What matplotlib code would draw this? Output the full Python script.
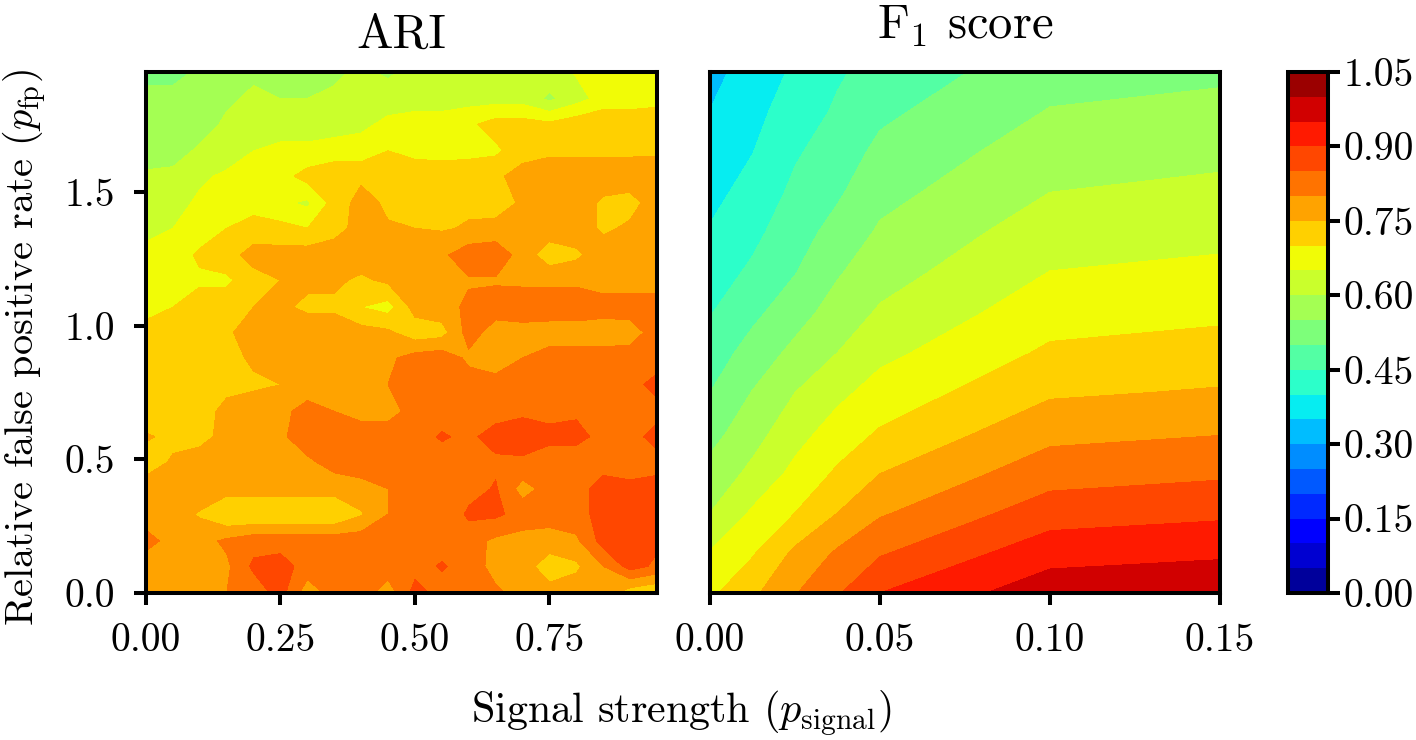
import matplotlib
matplotlib.use('Agg')
import matplotlib.pyplot as plt
import numpy as np

# ── Data ──────────────────────────────────────────────────────────────────────
ari_x = [0.00, 0.05, 0.10, 0.15, 0.20, 0.25, 0.30, 0.35, 0.40, 0.45,
         0.50, 0.55, 0.60, 0.65, 0.70, 0.75, 0.80, 0.85, 0.90, 0.95]
# rows listed from the top of the panel down to y = 0
ari_y_top_down = [1.95, 1.85, 1.755, 1.655, 1.56, 1.46, 1.365, 1.265, 1.17, 1.07, 0.975,
                  0.88, 0.78, 0.68, 0.585, 0.49, 0.39, 0.295, 0.195, 0.10, 0.00]
ari_rows = [
    [.54, .53, .56, .58, .59, .59, .59, .59, .61, .59, .62, .63, .63, .63, .645, .63, .655, .67, .67, .67],
    [.56, .57, .58, .59, .61, .60, .60, .61, .62, .63, .63, .63, .63, .63, .63, .59, .63, .67, .67, .68],
    [.56, .56, .575, .61, .62, .63, .63, .63, .64, .66, .67, .67, .69, .72, .72, .71, .73, .74, .74, .74],
    [.57, .575, .61, .62, .65, .66, .66, .67, .67, .70, .68, .68, .68, .69, .73, .74, .74, .74, .74, .74],
    [.61, .615, .64, .66, .67, .68, .72, .74, .74, .74, .74, .73, .74, .74, .77, .78, .78, .78, .78, .79],
    [.625, .63, .66, .67, .68, .66, .64, .72, .77, .74, .74, .74, .74, .72, .76, .77, .78, .74, .73, .78],
    [.645, .65, .67, .70, .72, .715, .70, .73, .77, .755, .75, .745, .755, .77, .78, .78, .78, .74, .76, .78],
    [.655, .67, .71, .73, .77, .77, .775, .78, .78, .78, .78, .79, .83, .83, .78, .72, .74, .78, .78, .78],
    [.655, .67, .69, .69, .73, .75, .76, .76, .74, .76, .77, .80, .795, .795, .79, .79, .79, .78, .78, .78],
    [.68, .70, .73, .73, .75, .76, .74, .74, .70, .68, .77, .78, .81, .82, .83, .83, .83, .82, .82, .82],
    [.72, .72, .72, .74, .78, .78, .78, .78, .77, .76, .72, .73, .82, .78, .78, .775, .775, .775, .78, .82],
    [.72, .72, .72, .73, .76, .77, .77, .78, .78, .79, .82, .83, .79, .77, .80, .82, .82, .82, .82, .82],
    [.72, .72, .72, .73, .74, .75, .77, .77, .77, .80, .82, .80, .82, .82, .82, .83, .83, .83, .83, .87],
    [.72, .72, .72, .77, .78, .785, .82, .80, .78, .78, .82, .83, .83, .83, .84, .84, .84, .83, .83, .83],
    [.755, .74, .73, .77, .78, .79, .83, .83, .83, .83, .83, .855, .84, .87, .88, .86, .87, .83, .83, .87],
    [.73, .755, .78, .78, .78, .79, .79, .82, .83, .83, .83, .83, .83, .84, .84, .83, .81, .83, .83, .83],
    [.77, .78, .78, .77, .77, .77, .77, .77, .78, .80, .83, .83, .83, .855, .78, .82, .83, .87, .86, .87],
    [.77, .77, .745, .70, .70, .70, .70, .70, .745, .80, .83, .80, .86, .86, .83, .82, .83, .87, .87, .87],
    [.82, .78, .78, .81, .83, .83, .83, .83, .83, .83, .83, .83, .82, .79, .78, .78, .79, .87, .88, .86],
    [.77, .77, .79, .79, .86, .87, .83, .83, .83, .83, .83, .855, .83, .78, .775, .72, .74, .80, .87, .84],
    [.78, .78, .78, .80, .82, .87, .77, .82, .83, .77, .87, .83, .82, .81, .78, .77, .78, .78, .72, .70],
]

f1_x = [0.0, 0.0125, 0.025, 0.0375, 0.05, 0.10, 0.15]
f1_y = [0.0, 0.15, 0.30, 0.45, 0.60, 0.75, 0.90, 1.05, 1.20, 1.35, 1.50, 1.65, 1.80, 1.95]
# one list per f1_x column, bottom to top
f1_cols = [
    [.69, .653, .60, .566, .532, .50, .473, .447, .425, .404, .386, .368, .351, .335],
    [.74, .695, .657, .612, .58, .552, .52, .488, .459, .437, .417, .399, .385, .371],
    [.797, .76, .70, .663, .631, .60, .563, .529, .498, .48, .461, .444, .425, .408],
    [.845, .807, .75, .707, .672, .638, .60, .572, .545, .517, .493, .475, .457, .444],
    [.90, .845, .794, .749, .705, .67, .637, .606, .58, .557, .534, .512, .49, .468],
    [.98, .93, .876, .828, .785, .743, .708, .679, .651, .626, .60, .577, .553, .53],
    [.995, .941, .89, .841, .797, .755, .72, .69, .662, .636, .612, .588, .564, .541],
]

levels = [0.00, 0.05, 0.10, 0.15, 0.20, 0.25, 0.30, 0.35, 0.40, 0.45, 0.50,
          0.55, 0.60, 0.65, 0.70, 0.75, 0.80, 0.85, 0.90, 0.95, 1.00, 1.05]
cbar_ticks = [0.00, 0.15, 0.30, 0.45, 0.60, 0.75, 0.90, 1.05]

# ── Plot style ────────────────────────────────────────────────────────────────
plt.rcParams.update({
    "font.family": "cmr10",
    "mathtext.fontset": "cm",
    "axes.unicode_minus": False,
    "axes.formatter.use_mathtext": True,
    "axes.linewidth": 2.9,
    "xtick.major.size": 8.5,
    "ytick.major.size": 8.5,
    "xtick.major.width": 2.9,
    "ytick.major.width": 2.9,
    "xtick.major.pad": 13,
    "ytick.major.pad": 14,
    "font.size": 28.5,
})

W, H = 1416, 740


def px_axes(fig, left, top, right, bottom):
    return fig.add_axes([left / W, 1 - bottom / H, (right - left) / W, (bottom - top) / H])


fig = plt.figure(figsize=(W / 100, H / 100), dpi=100)
ax1 = px_axes(fig, 146, 72, 657, 593)
ax2 = px_axes(fig, 710, 72, 1220, 593)
cax = px_axes(fig, 1288, 72, 1328, 593)

ari = np.array(ari_rows)[::-1]
ari_y = np.array(ari_y_top_down)[::-1]
cs1 = ax1.contourf(ari_x, ari_y, ari, levels=levels, cmap="jet", vmin=0, vmax=1.05)
cs2 = ax2.contourf(f1_x, f1_y, np.array(f1_cols).T, levels=levels, cmap="jet", vmin=0, vmax=1.05)

ax1.set_xlim(0, 0.95)
ax1.set_ylim(0, 1.95)
ax1.set_xticks([0.0, 0.25, 0.5, 0.75])
ax1.set_xticklabels(["0.00", "0.25", "0.50", "0.75"])
ax1.set_yticks([0.0, 0.5, 1.0, 1.5])
ax1.set_yticklabels(["0.0", "0.5", "1.0", "1.5"])
ax1.set_title("ARI", fontsize=35, pad=17.5)

ax2.set_xlim(0, 0.15)
ax2.set_ylim(0, 1.95)
ax2.set_xticks([0.0, 0.05, 0.10, 0.15])
ax2.set_xticklabels(["0.00", "0.05", "0.10", "0.15"])
ax2.set_yticks([])
ax2.set_title(r"F$_1$ score", fontsize=35, pad=24)

fig.text(25 / W, 1 - 348 / H, r"Relative false positive rate ($p_{\mathrm{fp}}$)",
         fontsize=29, rotation=90, ha="center", va="center")
fig.text(681 / W, 1 - 713 / H, r"Signal strength ($p_{\mathrm{signal}}$)",
         fontsize=30.3, ha="center", va="center")

cb = fig.colorbar(cs2, cax=cax, ticks=cbar_ticks)
cb.ax.set_yticklabels([f"{t:.2f}" for t in cbar_ticks])
cb.ax.tick_params(pad=3)
cb.outline.set_linewidth(2.9)

fig.savefig("out.png", dpi=100)
